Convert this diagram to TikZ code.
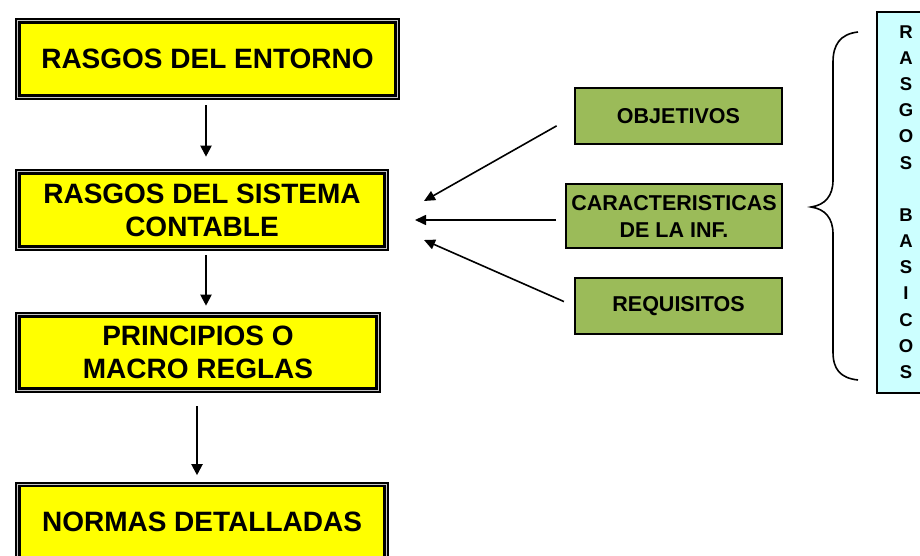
\documentclass[tikz,border=0pt]{standalone}
\usepackage{fontspec}
\setmainfont{Liberation Sans}
\usetikzlibrary{arrows.meta}
\definecolor{ybox}{HTML}{FFFF00}
\definecolor{gbox}{HTML}{9BBB59}
\definecolor{bbox}{HTML}{CCFFFF}
\begin{document}
\begin{tikzpicture}[x=1pt,y=-1pt,
  ystyle/.style={draw=black, double=gray!45, double distance=1.2pt, line width=2.2pt,
    fill=ybox, inner sep=0pt, align=center, font=\bfseries\fontsize{28}{33}\selectfont},
  gstyle/.style={draw=black, line width=1.6pt, fill=gbox, inner sep=0pt, align=center,
    font=\bfseries\fontsize{21.5}{27}\selectfont},
  varr/.style={line width=2pt, -{Triangle[length=11pt,width=11pt]}},
  garr/.style={line width=1.6pt, -{Triangle[length=11pt,width=10pt]}},
  bracestyle/.style={line width=1.6pt}
]
\useasboundingbox (0,0) rectangle (920,556);
\begin{scope}
\clip (0,0) rectangle (920,556);
% yellow boxes
\node[ystyle, minimum width=379.4pt, minimum height=76.4pt] (b1) at (207.5,59) {RASGOS DEL ENTORNO};
\node[ystyle, minimum width=368.4pt, minimum height=76.4pt] (b2) at (202,210) {RASGOS DEL SISTEMA\\CONTABLE};
\node[ystyle, minimum width=360.4pt, minimum height=75.4pt] (b3) at (198,352.5) {PRINCIPIOS O\\MACRO REGLAS};
\node[ystyle, minimum width=368.4pt, minimum height=75.4pt] (b4) at (202,522) {NORMAS DETALLADAS};
% green boxes
\node[gstyle, minimum width=207.4pt, minimum height=56.4pt] (g1) at (678.5,116) {OBJETIVOS};
\node[gstyle, minimum width=216.4pt, minimum height=64.4pt] (g2) at (674,216) {CARACTERISTICAS\\DE LA INF.};
\node[gstyle, minimum width=207.4pt, minimum height=56.4pt] (g3) at (678.5,306) {REQUISITOS};
% blue box
\node[draw=black, line width=2pt, fill=bbox, inner sep=0pt, minimum width=60pt, minimum height=381pt,
  anchor=north west] (bb) at (876,11) {};
\foreach \l [count=\i from 0] in {R,A,S,G,O,S,{},B,A,S,I,C,O,S}{
  \node[font=\bfseries\fontsize{18.5}{20}\selectfont, inner sep=0pt] (bl\i) at (906,32+26.15*\i) {\l};
}
% vertical arrows
\coordinate (c1) at (206,0);
\coordinate (c3) at (197,0);
\draw[varr, shorten <=7pt, shorten >=14pt] (b1.south -| c1) -- (b2.north -| c1);
\draw[varr, shorten <=6pt, shorten >=8pt] (b2.south -| c1) -- (b3.north -| c1);
\draw[varr, shorten <=15pt, shorten >=8pt] (b3.south -| c3) -- (b4.north -| c3);
% green arrows
\coordinate (t1) at (424,201);
\coordinate (t2) at (415,220);
\coordinate (t3) at (424,240);
\draw[garr, shorten <=20pt] (g1.west) -- (t1);
\draw[garr, shorten <=9pt] (t2 -| g2.west) -- (t2);
\draw[garr, shorten <=11pt] (g3.west) -- (t3);
% brace
\draw[bracestyle] (858,32) .. controls (840,34) and (833,45) .. (833,62)
  -- (833,180) .. controls (833,196) and (825,205) .. (811,207)
  .. controls (825,209) and (833,218) .. (833,234)
  -- (833,352) .. controls (833,369) and (840,378) .. (858,380);
\end{scope}
\end{tikzpicture}
\end{document}
